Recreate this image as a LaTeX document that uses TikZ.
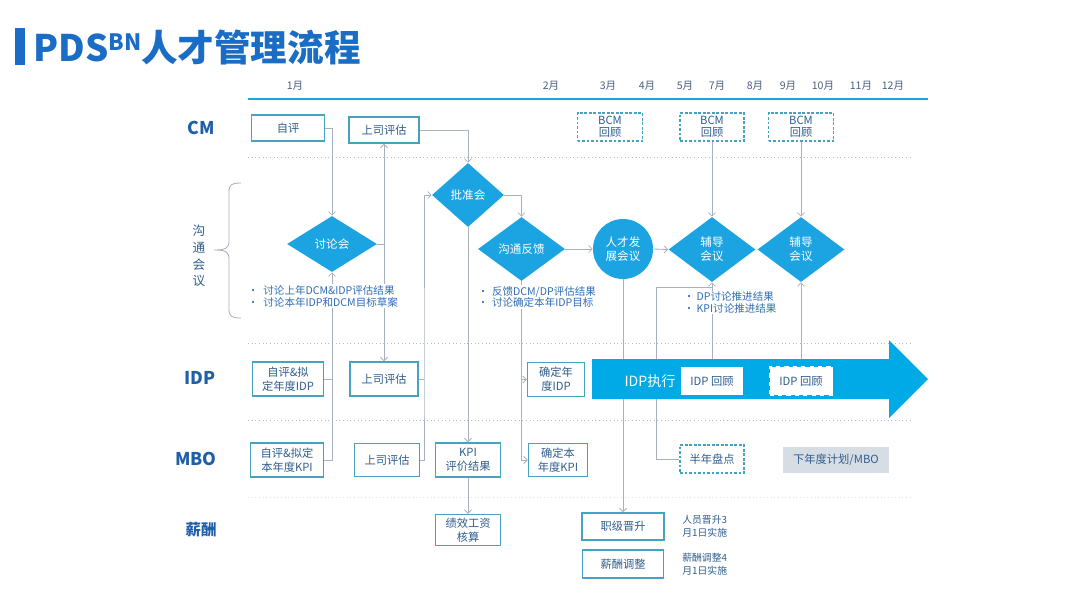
\documentclass[tikz,border=0pt]{standalone}
\usepackage{fontspec}
\setmainfont{Noto Sans CJK SC}
\usepackage{tikz}
\usetikzlibrary{arrows.meta, shapes.geometric}
\definecolor{ktitle}{HTML}{1A6CC4}
\definecolor{kmonth}{HTML}{4A5E7E}
\definecolor{kline}{HTML}{1DA3D8}
\definecolor{kteal}{HTML}{46A3C0}
\definecolor{kbtext}{HTML}{2F5E8E}
\definecolor{kcyan}{HTML}{1CA4E2}
\definecolor{kgrey}{HTML}{A9B2BC}
\definecolor{kdot}{HTML}{B4BBC4}
\definecolor{krow}{HTML}{1F5FA6}
\definecolor{knote}{HTML}{2E6DB4}
\definecolor{karrow}{HTML}{00AAE7}
\definecolor{kplan}{HTML}{D7DDE5}
\pgfdeclarelayer{lines}
\pgfdeclarelayer{band}
\pgfsetlayers{lines,band,main}
\tikzset{
  bsize/.style 2 args={minimum width=#1*0.025cm, minimum height=#2*0.025cm},
  lanebox/.style={draw=kteal, fill=white, line width=1pt, inner sep=1pt,
                  align=center, text=kbtext, font=\fontsize{8}{10}\selectfont},
  lanedash/.style={lanebox, dashed, dash pattern=on 2pt off 1.2pt, font=\fontsize{8}{8.5}\selectfont},
  revbox/.style={fill=white, inner sep=1pt, text=kbtext, font=\fontsize{8}{10}\selectfont},
  meet/.style={diamond, fill=kcyan, text=white, inner sep=0pt, align=center,
               font=\fontsize{8.2}{10}\selectfont},
  conn/.style={-{Straight Barb[length=2.5pt, width=5pt]}, kgrey, line width=0.6pt},
  link/.style={kgrey, line width=0.6pt},
  lanesep/.style={kdot, dotted, line width=0.6pt},
  rowlabel/.style={text=krow, font=\fontsize{12.5}{14}\selectfont\bfseries},
  month/.style={text=kmonth, font=\fontsize{7.5}{9}\selectfont},
  note/.style={fill=white, inner sep=0.5pt, align=left, text=knote,
               font=\fontsize{7.5}{8.5}\selectfont},
  paynote/.style={inner sep=0pt, align=left, text=kbtext, font=\fontsize{7}{9}\selectfont},
}
\begin{document}
\begin{tikzpicture}[x=0.025cm, y=-0.025cm]
  \useasboundingbox (0,0) rectangle (1080,608);

  %% title
  \fill[ktitle] (15,28) rectangle (25,65);
  \node[anchor=west, inner sep=0, text=ktitle, font=\fontsize{26}{29}\selectfont\bfseries] (title) at (33,47)
    {PDS\raisebox{7.5pt}{\fontsize{16}{16}\selectfont BN}人才管理流程};

  %% time line
  \draw[kline, line width=2pt] (248,99) -- (928,99);
  \foreach \m/\px in {1/295, 2/551, 3/608, 4/647, 5/685, 7/717, 8/755, 9/788, 10/823, 11/861, 12/893}
    \node[month] (m\m) at (\px,86) {\m 月};

  %% lanes
  \begin{pgfonlayer}{lines}
    \foreach \yy in {157, 343, 420}
      \draw[lanesep] (248,\yy) -- (910,\yy);
    \draw[lanesep, draw=kdot!45] (248,497) -- (910,497);
    \draw[kgrey, line width=0.6pt] (241,183) .. controls (231,183) and (229,185) .. (229,192)
      -- (229,241) .. controls (229,248) and (226,250) .. (214,250)
      .. controls (226,250) and (229,252) .. (229,259)
      -- (229,309) .. controls (229,316) and (231,318) .. (241,318);
  \end{pgfonlayer}
  \node[rowlabel] (lcm) at (201,128) {CM};
  \node[rowlabel] (lidp) at (200,378) {IDP};
  \node[rowlabel] (lmbo) at (196,459) {MBO};
  \node[rowlabel, font=\fontsize{11}{13}\selectfont\bfseries] (lpay) at (201,530) {薪酬};
  \node[text=kbtext, align=center, font=\fontsize{9}{11.8}\selectfont] (lmeet) at (199,256) {沟\\通\\会\\议};

  %% CM row
  \node[lanebox, bsize={73}{26}] (cmself) at (288,128) {自评};
  \node[lanebox, bsize={70}{26}] (cmboss) at (384,130) {上司评估};
  \node[lanedash, bsize={65}{28}] (bcm1) at (610,127) {BCM\\回顾};
  \node[lanedash, bsize={64}{28}] (bcm2) at (712,127) {BCM\\回顾};
  \node[lanedash, bsize={65}{28}] (bcm3) at (801,127) {BCM\\回顾};

  %% meetings
  \node[meet, bsize={90}{56}] (discuss) at (332,244) {讨论会};
  \node[meet, bsize={72}{64}] (approve) at (468,195) {批准会};
  \node[meet, bsize={87}{64}] (feedback) at (521.5,249) {沟通反馈};
  \node[circle, fill=kcyan, text=white, minimum size=60*0.025cm, inner sep=0pt, align=center,
        font=\fontsize{8.2}{10}\selectfont] (talent) at (623,249) {人才发\\展会议};
  \node[meet, bsize={87}{65}] (coach1) at (712,249.5) {辅导\\会议};
  \node[meet, bsize={87}{65}] (coach2) at (801,249.5) {辅导\\会议};
  \node[note, anchor=west] (discussnote) at (247,296)
    {\makebox[11pt][l]{•}讨论上年DCM\&IDP评估结果\\\makebox[11pt][l]{•}讨论本年IDP和DCM目标草案};
  \node[note, anchor=west] (feedbacknote) at (477,297)
    {\makebox[10pt][l]{•}反馈DCM/DP评估结果\\\makebox[10pt][l]{•}讨论确定本年IDP目标};
  \node[note, anchor=west] (coachnote) at (683,302.5)
    {\makebox[9pt][l]{•}DP讨论推进结果\\\makebox[9pt][l]{•}KPI讨论推进结果};

  %% IDP row
  \begin{pgfonlayer}{band}
    \fill[karrow] (592,359) -- (889,359) -- (889,340) -- (928,379) -- (889,418) -- (889,399) -- (592,399) -- cycle;
  \end{pgfonlayer}
  \node[lanebox, bsize={71}{34}] (idpself) at (288,379) {自评\&拟\\定年度IDP};
  \node[lanebox, bsize={68}{34}] (idpboss) at (384,379) {上司评估};
  \node[lanebox, bsize={57}{34}] (idpfix) at (556,379.5) {确定年\\度IDP};
  \node[text=white, font=\fontsize{10}{12}\selectfont] (idprun) at (650,381) {IDP执行};
  \node[revbox, bsize={62}{28}] (idprev1) at (712,381) {IDP 回顾};
  \node[revbox, bsize={63}{28}, draw=white, dashed, line width=1pt] (idprev2) at (801,381) {IDP 回顾};

  %% MBO row
  \node[lanebox, bsize={73}{34}] (mboself) at (287,460) {自评\&拟定\\本年度KPI};
  \node[lanebox, bsize={65}{33}] (mboboss) at (387,460) {上司评估};
  \node[lanebox, bsize={65}{34}] (kpires) at (468,460) {KPI\\评价结果};
  \node[lanebox, bsize={59}{33}] (kpifix) at (558,460) {确定本\\年度KPI};
  \node[lanedash, bsize={64}{28}] (halfyear) at (712,459) {半年盘点};
  \node[fill=kplan, text=kbtext, bsize={106}{26}, inner sep=1pt,
        font=\fontsize{8}{10}\selectfont] (nextplan) at (836,460) {下年度计划/MBO};

  %% pay row
  \node[lanebox, bsize={65}{31}] (salcalc) at (468,530) {绩效工资\\核算};
  \node[lanebox, bsize={82}{27}] (promo) at (623,526.5) {职级晋升};
  \node[lanebox, bsize={81}{28}] (saladj) at (623,564) {薪酬调整};
  \node[paynote, anchor=west] (promonote) at (682,526) {人员晋升3\\月1日实施};
  \node[paynote, anchor=west] (adjnote) at (682,564) {薪酬调整4\\月1日实施};

  %% connectors
  \begin{pgfonlayer}{lines}
    \draw[conn] (cmself.east) -| (discuss.north);
    \draw[link] (idpself.east) -- (idpself.east -| discuss.south);
    \draw[conn] (mboself.east) -| (discuss.south);
    \draw[conn] (discuss.east) -| (cmboss.south);
    \draw[conn] (discuss.east) -| (idpboss.north);
    \draw[conn] (cmboss.east) -| (approve.north);
    \coordinate (bus) at (424,379);
    \draw[link] (idpboss.east) -- (bus);
    \draw[conn] (mboboss.east) -| (bus) |- (approve.west);
    \draw[conn] (approve.east) -| (feedback.north);
    \draw[conn] (approve.south) -- (kpires.north);
    \draw[conn] (kpires.south) -- (salcalc.north);
    \draw[conn] (feedback.south) |- (idpfix.west);
    \draw[conn] (feedback.south) |- (kpifix.west);
    \draw[conn] (feedback.east) -- (talent.west);
    \draw[conn] (talent.east) -- (coach1.west);
    \draw[conn] (talent.south) -- (promo.north);
    \draw[conn] (bcm2.south) -- (coach1.north);
    \draw[conn] (bcm3.south) -- (coach2.north);
    \draw[conn] (idprev1.north) -- (coach1.south);
    \draw[conn] (idprev2.north) -- (coach2.south);
    \coordinate (hy) at (656,287);
    \draw[link] (halfyear.west) -| (hy) -- (hy -| coach1.south);
  \end{pgfonlayer}

\end{tikzpicture}
\end{document}
